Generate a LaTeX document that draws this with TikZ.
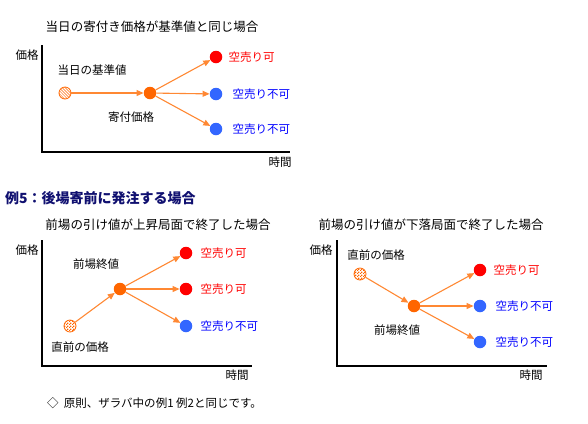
\documentclass[tikz,border=0pt]{standalone}
\usepackage{fontspec}
\setmainfont{Noto Sans CJK JP}
\usepackage{tikz}
\usetikzlibrary{positioning, arrows.meta, patterns}
\definecolor{ptorange}{HTML}{FF6600}
\definecolor{arrorange}{HTML}{FF8833}
\definecolor{ptred}   {HTML}{FF0000}
\definecolor{ptblue}  {HTML}{3366FF}
\definecolor{txtred}  {HTML}{FF0000}
\definecolor{txtblue} {HTML}{0000FF}
\definecolor{heading} {HTML}{101070}
\pgfdeclarepatternformonly{finechecker}{\pgfpointorigin}{\pgfqpoint{3bp}{3bp}}
  {\pgfqpoint{3bp}{3bp}}{%
  \pgfpathrectangle{\pgfpointorigin}{\pgfqpoint{1.5bp}{1.5bp}}%
  \pgfpathrectangle{\pgfqpoint{1.5bp}{1.5bp}}{\pgfqpoint{1.5bp}{1.5bp}}%
  \pgfusepath{fill}}
\tikzset{
  >={Triangle[length=7bp, width=6bp]},
  dot/.style={
    circle, minimum size=12.5bp, inner sep=0pt, draw=none
  },
  startdot/.style={
    circle, minimum size=12bp, inner sep=0pt,
    draw=ptorange, line width=0.8bp
  },
  label/.style={
    font=\fontsize{11.5bp}{13bp}\selectfont, text=black, inner sep=0pt
  },
  title/.style={
    font=\fontsize{12.5bp}{14bp}\selectfont, text=black, inner sep=0pt
  },
  flow/.style={
    ->, draw=arrorange, line width=1.1bp
  },
  axis/.style={
    draw=black, line width=1.2bp
  },
}

\begin{document}
\begin{tikzpicture}[x=1bp, y=-1bp]
\useasboundingbox (0,0) rectangle (588,423);

% ---- Top panel: same as base price ---------------------------------
\node[title] (t_title) at (152, 27) {当日の寄付き価格が基準値と同じ場合};
\coordinate (t_top)    at ( 42, 45);
\coordinate (t_origin) at ( 42, 152);
\coordinate (t_end)    at (290, 152);
\draw[axis] (t_top) -- (t_origin) -- (t_end);
\node[label] (t_price) at ( 27, 55)  {価格};
\node[label] (t_time)  at (280, 162) {時間};

\node[startdot, pattern=north west lines, pattern color=ptorange] (t_base) at ( 65, 93) {};
\node[dot, fill=ptorange] (t_open) at (150, 93)  {};
\node[dot, fill=ptred]    (t_up)   at (216, 57)  {};
\node[dot, fill=ptblue]   (t_mid)  at (216, 94)  {};
\node[dot, fill=ptblue]   (t_down) at (216, 129) {};

\node[label] at ( 92, 70)  {当日の基準値};
\node[label] at (131, 117) {寄付価格};
\node[label, text=txtred,  right=6bp  of t_up]   {空売り可};
\node[label, text=txtblue, right=10bp of t_mid]  {空売り不可};
\node[label, text=txtblue, right=10bp of t_down] {空売り不可};

\draw[flow] (t_base) -- (t_open);
\draw[flow] (t_open) -- (t_up);
\draw[flow] (t_open) -- (t_mid);
\draw[flow] (t_open) -- (t_down);

% ---- Heading --------------------------------------------------------
\node[anchor=west, inner sep=0pt, text=heading,
      font=\fontsize{14bp}{16bp}\selectfont\bfseries] (heading) at (5, 198)
  {例5：後場寄前に発注する場合};

% ---- Bottom left: morning close in a rising phase ------------------
\node[title] (l_title) at (158, 225) {前場の引け値が上昇局面で終了した場合};
\coordinate (l_top)    at ( 42, 240);
\coordinate (l_origin) at ( 42, 366);
\coordinate (l_end)    at (252, 366);
\draw[axis] (l_top) -- (l_origin) -- (l_end);
\node[label] (l_price) at ( 27, 250) {価格};
\node[label] (l_time)  at (237, 375) {時間};

\node[startdot, pattern=finechecker, pattern color=ptorange] (l_prev) at ( 70, 326) {};
\node[dot, fill=ptorange] (l_close) at (120, 289) {};
\node[dot, fill=ptred]    (l_up)    at (186, 253) {};
\node[dot, fill=ptred]    (l_mid)   at (186, 289) {};
\node[dot, fill=ptblue]   (l_down)  at (186, 326) {};

\node[label] at ( 96, 264) {前場終値};
\node[label] at ( 80, 347) {直前の価格};
\node[label, text=txtred,  right=8bp of l_up]   {空売り可};
\node[label, text=txtred,  right=8bp of l_mid]  {空売り可};
\node[label, text=txtblue, right=8bp of l_down] {空売り不可};

\draw[flow] (l_prev)  -- (l_close);
\draw[flow] (l_close) -- (l_up);
\draw[flow] (l_close) -- (l_mid);
\draw[flow] (l_close) -- (l_down);

% ---- Bottom right: morning close in a falling phase ----------------
\node[title] (r_title) at (431, 225) {前場の引け値が下落局面で終了した場合};
\coordinate (r_top)    at (337, 240);
\coordinate (r_origin) at (337, 366);
\coordinate (r_end)    at (547, 366);
\draw[axis] (r_top) -- (r_origin) -- (r_end);
\node[label] (r_price) at (321, 250) {価格};
\node[label] (r_time)  at (531, 375) {時間};

\node[startdot, pattern=finechecker, pattern color=ptorange] (r_prev) at (360, 274) {};
\node[dot, fill=ptorange] (r_close) at (414, 306) {};
\node[dot, fill=ptred]    (r_up)    at (480, 270) {};
\node[dot, fill=ptblue]   (r_mid)   at (480, 306) {};
\node[dot, fill=ptblue]   (r_down)  at (480, 342) {};

\node[label] at (376, 255) {直前の価格};
\node[label] at (397, 330) {前場終値};
\node[label, text=txtred,  right=7bp of r_up]   {空売り可};
\node[label, text=txtblue, right=9bp of r_mid]  {空売り不可};
\node[label, text=txtblue, right=9bp of r_down] {空売り不可};

\draw[flow] (r_prev)  -- (r_close);
\draw[flow] (r_close) -- (r_up);
\draw[flow] (r_close) -- (r_mid);
\draw[flow] (r_close) -- (r_down);

% ---- Footnote ------------------------------------------------------
\node[label, anchor=west] (note) at (47, 403) {◇\ \ 原則、ザラバ中の例1 例2と同じです。};

\end{tikzpicture}
\end{document}
